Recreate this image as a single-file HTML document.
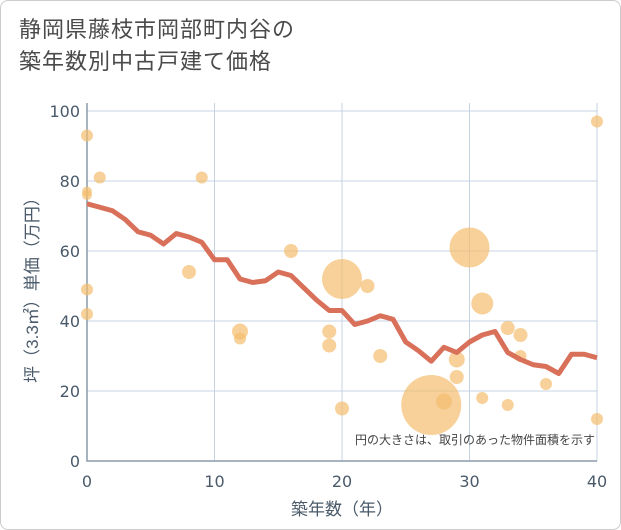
<!DOCTYPE html>
<html><head><meta charset="utf-8"><style>
body{margin:0;background:#fff;font-family:"Liberation Sans","Noto Sans CJK JP",sans-serif}
#wrap{position:relative;width:621px;height:530px;box-sizing:border-box;border:1px solid #ccc;border-radius:8px;overflow:hidden}
#title{position:absolute;left:18px;top:13px;font-size:22px;line-height:32px;color:#4a4a4a;letter-spacing:1px}
svg{position:absolute;left:0;top:0}
</style></head><body>
<div id="wrap">
<div id="title">静岡県藤枝市岡部町内谷の<br>築年数別中古戸建て価格</div>
<svg id="c" width="621" height="530"></svg>
</div>
<script>
const lineYears=[0,1,2,3,4,5,6,7,8,9,10,11,12,13,14,15,16,17,18,19,20,21,22,23,24,25,26,27,28,29,30,31,32,33,34,35,36,37,38,39,40];
const lineValues=[73.5,72.5,71.5,69,65.5,64.5,62,65,64,62.5,57.5,57.5,52,51,51.5,54,53,49.5,46,43,43,39,40,41.5,40.5,34,31.5,28.5,32.5,31,34,36,37,31,29,27.5,27,25,30.5,30.5,29.5];
const bubbleX=[0,0,0,1,9,0,0,8,12,12,16,19,19,20,20,22,23,27,28,29,29,30,31,31,33,33,34,34,36,40,40];
const bubbleY=[93,77,76,81,81,49,42,54,37,35,60,37,33,52,15,50,30,16,17,29,24,61,45,18,38,16,36,30,22,97,12];
const bubbleR=[6,5,5,6,6,6,6,7,8,6,7,7,7,20,7,7,7,30,8,8,7,20,11,6,7,6,7,6,6,6,6];
const xTicks=[0,10,20,30,40];
const yTicks=[0,20,40,60,80,100];
const NS='http://www.w3.org/2000/svg';
const svg=document.getElementById('c');
const X0=86,X1=596,Y0=460,Y1=110;
const TF='"DejaVu Sans","Liberation Sans",sans-serif';
const sx=v=>X0+(X1-X0)*v/40, sy=v=>Y0-(Y0-Y1)*v/100;
function mk(t,a){const e=document.createElementNS(NS,t);for(const k in a)e.setAttribute(k,a[k]);svg.appendChild(e);return e;}
yTicks.forEach(v=>{
 const l=mk('line',{x1:X0,x2:X1,y1:sy(v),y2:sy(v),stroke:'#c5d3e0','stroke-width':1});
 
 const t=mk('text',{x:X0-7,y:sy(v)+6,'text-anchor':'end','font-size':16,fill:'#4a5a6a','font-family':TF});t.textContent=v;
 
});
xTicks.forEach(v=>{
 const l=mk('line',{x1:sx(v),x2:sx(v),y1:Y1-8,y2:Y0,stroke:'#c5d3e0','stroke-width':1});
 
 const t=mk('text',{x:sx(v),y:Y0+26,'text-anchor':'middle','font-size':16,fill:'#4a5a6a','font-family':TF});t.textContent=v;
 
});
const ax=mk('path',{d:`M${X0} ${Y1-8}V${Y0}H${X1}`,fill:'none',stroke:'#8a9aaa','stroke-width':1.5});

bubbleX.forEach((x,i)=>{
 const c=mk('circle',{cx:sx(x),cy:sy(bubbleY[i]),r:bubbleR[i],fill:'rgba(244,190,110,0.7)'});
 
});
const p=mk('polyline',{points:lineYears.map((x,i)=>sx(x)+','+sy(lineValues[i])).join(' '),fill:'none',stroke:'#d9705a','stroke-width':5,'stroke-linejoin':'round'});

const n=mk('text',{x:594,y:443,'text-anchor':'end','font-size':12,fill:'#444'});n.textContent='円の大きさは、取引のあった物件面積を示す';

const xt=mk('text',{x:sx(20),y:514,'text-anchor':'middle','font-size':17,fill:'#4a5a6a'});xt.textContent='築年数（年）';

const yt=mk('text',{x:0,y:0,'text-anchor':'middle','font-size':17,fill:'#4a5a6a',transform:`translate(37,${sy(50)}) rotate(-90)`});yt.textContent='坪（3.3㎡）単価（万円）';

</script>
</body></html>
